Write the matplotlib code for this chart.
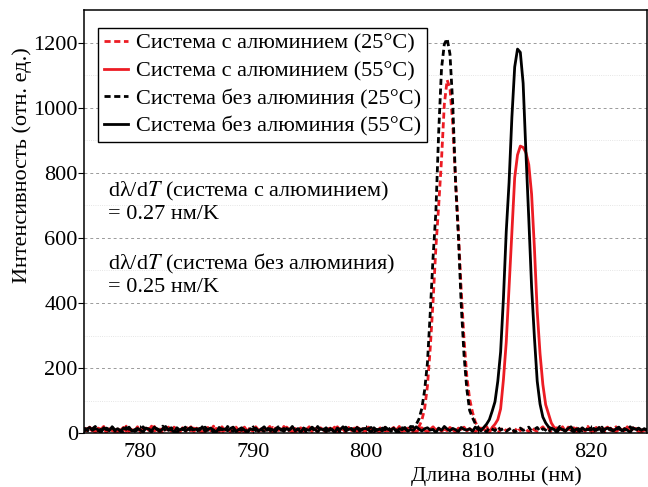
import numpy as np
import matplotlib
matplotlib.use("Agg")
import matplotlib.pyplot as plt

plt.rcParams['font.family'] = ['Liberation Serif', 'DejaVu Serif']
plt.rcParams['mathtext.fontset'] = 'stix'

# baseline noise on a 0.25 nm grid starting at 775 nm
noise_al25 = [9, 15, 3, 12, 20, 6, 11, 17, 1, 14, 8, 19, 5, 13, 10, 22, 4, 16, 7, 12,
              18, 2, 11, 15, 6, 21, 9, 13, 0, 17, 10, 5, 19, 12, 7, 14, 3, 20, 8, 16,
              11, 6, 18, 4, 13, 9, 22, 7, 15, 2, 12, 17, 5, 10, 19, 8, 14, 1, 16, 11,
              7, 20, 10, 3, 15, 12, 6, 18, 9, 14, 4, 21, 11, 8, 16, 2, 13, 19, 6, 10,
              15, 5, 12, 18, 8, 11, 3, 17, 13, 7, 20, 9, 14, 1, 16, 10, 6, 19, 12, 4,
              13, 17, 8, 11, 2, 15, 21, 6, 12, 9, 18, 4, 14, 10, 7, 16, 11, 3, 20, 8,
              12, 5, 16, 10, 19, 7, 13, 2, 14, 11, 6, 18, 9, 15, 4, 12, 20, 8, 10, 17,
              3, 14, 9, 21, 6, 12, 16, 1, 11, 18, 7, 13, 10, 5, 19, 8, 15, 12, 4, 17,
              10, 6, 13, 20, 9, 15, 2, 11, 17, 7, 14, 5, 19, 12, 8, 16, 3, 13, 10, 21,
              6, 12, 18, 9, 14, 4, 11, 16, 8, 20, 10, 3, 15, 13, 7, 17, 11, 5, 19, 9,
              12]
noise_al55 = [14, 7, 19, 10, 3, 16, 12, 21, 6, 11, 17, 2, 13, 9, 18, 5, 15, 11, 8, 20,
              4, 13, 16, 9, 22, 7, 12, 1, 15, 10, 19, 6, 14, 11, 3, 17, 8, 12, 20, 5,
              16, 10, 2, 13, 18, 8, 11, 15, 4, 20, 9, 12, 6, 17, 14, 1, 11, 19, 7, 13,
              10, 18, 5, 14, 8, 12, 21, 3, 16, 9, 13, 7, 19, 11, 2, 15, 10, 17, 6, 12,
              20, 8, 13, 4, 17, 11, 6, 15, 10, 19, 2, 14, 12, 7, 18, 9, 16, 3, 11, 14,
              6, 19, 11, 15, 9, 3, 13, 18, 7, 12, 16, 10, 21, 5, 14, 8, 11, 17, 2, 13,
              17, 9, 4, 12, 20, 10, 15, 6, 13, 8, 18, 11, 3, 16, 12, 19, 7, 14, 9, 5,
              11, 16, 13, 7, 2, 18, 10, 14, 20, 6, 12, 9, 17, 4, 15, 11, 8, 21, 13, 10,
              8, 13, 19, 5, 12, 16, 9, 1, 14, 11, 20, 7, 13, 10, 17, 4, 12, 15, 6, 18,
              13, 4, 10, 17, 7, 14, 19, 9, 12, 3, 16, 11, 8, 20, 6, 13, 15, 10, 2, 12,
              9]
noise_no25 = [17, 10, 5, 14, 21, 8, 12, 3, 16, 11, 19, 7, 13, 9, 2, 18, 12, 15, 6, 10,
              13, 20, 8, 11, 4, 16, 14, 9, 22, 5, 12, 17, 10, 1, 15, 11, 19, 7, 14, 8,
              5, 15, 12, 19, 9, 13, 3, 17, 10, 14, 7, 21, 11, 6, 16, 12, 9, 18, 4, 13,
              19, 8, 14, 11, 6, 17, 10, 2, 13, 20, 9, 15, 5, 12, 18, 8, 14, 11, 16, 3,
              12, 16, 7, 21, 10, 13, 5, 18, 11, 8, 15, 2, 14, 19, 9, 12, 6, 17, 13, 10,
              8, 14, 18, 4, 12, 9, 16, 11, 20, 6, 13, 10, 3, 17, 14, 8, 21, 11, 7, 15,
              10, 3, 13, 16, 8, 19, 12, 6, 14, 11, 2, 17, 9, 15, 12, 20, 5, 13, 10, 18,
              15, 9, 11, 4, 17, 13, 8, 20, 10, 14, 6, 12, 18, 3, 11, 16, 9, 13, 19, 7,
              12, 18, 6, 14, 10, 2, 16, 11, 9, 21, 13, 7, 15, 10, 4, 17, 12, 8, 14, 11,
              16, 7, 13, 10, 19, 5, 12, 15, 8, 11, 17, 3, 14, 9, 20, 12, 6, 16, 10, 13,
              8]
noise_no55 = [6, 13, 18, 9, 15, 11, 2, 17, 12, 8, 20, 10, 14, 5, 16, 12, 19, 7, 11, 15,
              10, 4, 16, 13, 8, 19, 11, 6, 14, 21, 9, 12, 3, 17, 10, 15, 7, 13, 18, 11,
              14, 9, 20, 6, 12, 16, 10, 3, 18, 11, 13, 8, 15, 19, 5, 12, 17, 10, 2, 14,
              11, 16, 7, 13, 20, 9, 14, 11, 4, 17, 12, 6, 15, 10, 21, 8, 13, 3, 16, 12,
              9, 19, 12, 5, 14, 10, 17, 8, 13, 2, 16, 11, 20, 7, 12, 15, 9, 18, 6, 14,
              15, 11, 3, 17, 9, 13, 7, 19, 12, 10, 16, 4, 14, 11, 18, 6, 12, 9, 20, 13,
              7, 14, 17, 10, 12, 2, 16, 9, 21, 13, 8, 15, 11, 5, 18, 12, 10, 14, 6, 19,
              12, 8, 15, 20, 6, 13, 11, 17, 3, 14, 10, 19, 7, 12, 16, 9, 13, 4, 18, 11,
              17, 10, 6, 13, 19, 8, 14, 12, 2, 16, 11, 7, 15, 20, 9, 13, 5, 17, 10, 12,
              10, 15, 9, 18, 4, 12, 16, 11, 7, 14, 19, 8, 13, 10, 3, 17, 12, 15, 9, 14,
              11]

# peak profiles (0.25 nm step) and their start wavelengths
peak_al25_start = 804.75
peak_al25 = [20, 40, 75, 145, 262, 405, 570, 700, 840, 1010, 1085, 1060, 950,
             775, 620, 440, 290, 175, 105, 65, 35, 18]
peak_al55_start = 811.25
peak_al55 = [18, 28, 42, 75, 165, 280, 450, 615, 785, 855, 882, 878, 862, 825,
             735, 570, 375, 245, 150, 88, 60, 32, 18]
peak_no25_start = 804.25
peak_no25 = [20, 27, 44, 76, 132, 216, 370, 540, 680, 925, 1120, 1195, 1212, 1165,
             1010, 770, 605, 395, 240, 135, 70, 48, 30, 18]
peak_no55_start = 810.5
peak_no55 = [18, 28, 42, 68, 97, 160, 250, 415, 620, 770, 970, 1125, 1180, 1170,
             1075, 860, 660, 450, 295, 160, 90, 50, 32, 20]

labels = ['Система с алюминием (25°C)', 'Система с алюминием (55°C)',
          'Система без алюминия (25°C)', 'Система без алюминия (55°C)']


def spectrum(noise, peak, start):
    y = np.array(noise, dtype=float)
    x = 775 + 0.25 * np.arange(len(y))
    i0 = int(round((start - 775) / 0.25))
    y[i0:i0 + len(peak)] = peak
    return x, y


red = '#ec1c24'
fs = 16
fig = plt.figure(figsize=(6.48, 4.87), dpi=100)
ax = fig.add_axes([84/648, 1-433.3/487, 563/648, 423.3/487])

dash = (0, (2.2, 1.3))
x, y = spectrum(noise_al25, peak_al25, peak_al25_start)
ax.plot(x, y, color=red, ls=dash, lw=2.0, label=labels[0])
x, y = spectrum(noise_al55, peak_al55, peak_al55_start)
ax.plot(x, y, color=red, lw=2.0, label=labels[1])
x, y = spectrum(noise_no25, peak_no25, peak_no25_start)
ax.plot(x, y, color='black', ls=dash, lw=2.0, label=labels[2])
x, y = spectrum(noise_no55, peak_no55, peak_no55_start)
ax.plot(x, y, color='black', lw=2.0, label=labels[3])

ax.set_xlim(775, 825)
ax.set_ylim(0, 1300)
ax.set_xticks([780, 790, 800, 810, 820])
ax.set_yticks([0, 200, 400, 600, 800, 1000, 1200])
ax.set_yticks(range(100, 1300, 200), minor=True)
ax.grid(axis='y', which='major', color='#9a9a9a', ls=(0, (3, 3)), lw=0.7)
ax.grid(axis='y', which='minor', color='#dddddd', ls=':', lw=0.6)
ax.set_axisbelow(True)
ax.tick_params(axis='y', which='major', direction='out', length=4, labelsize=fs, pad=0.5)
ax.tick_params(axis='y', which='minor', length=0)
ax.tick_params(axis='x', direction='in', length=6, labelsize=fs, pad=7)
for s in ax.spines.values():
    s.set_linewidth(1.1)

ax.set_xlabel('Длина волны (нм)', fontsize=fs)
ax.xaxis.set_label_coords(0.733, -0.078)
ax.set_ylabel('Интенсивность (отн. ед.)', fontsize=fs)
ax.yaxis.set_label_coords(-0.093, 0.634)

ax.text(777.1, 711, 'dλ/d$T$ (система с алюминием)\n= 0.27 нм/K', fontsize=fs,
        va='center', ha='left', linespacing=1.15)
ax.text(777.1, 487, 'dλ/d$T$ (система без алюминия)\n= 0.25 нм/K', fontsize=fs,
        va='center', ha='left', linespacing=1.15)

leg = ax.legend(loc='upper left', bbox_to_anchor=(0.025, 0.958), borderaxespad=0,
                fontsize=fs, fancybox=False, edgecolor='black', framealpha=1,
                handlelength=1.1, handletextpad=0.35, labelspacing=0.32, borderpad=0.25)
leg.get_frame().set_linewidth(1.0)

plt.savefig('out.png', dpi=100)
